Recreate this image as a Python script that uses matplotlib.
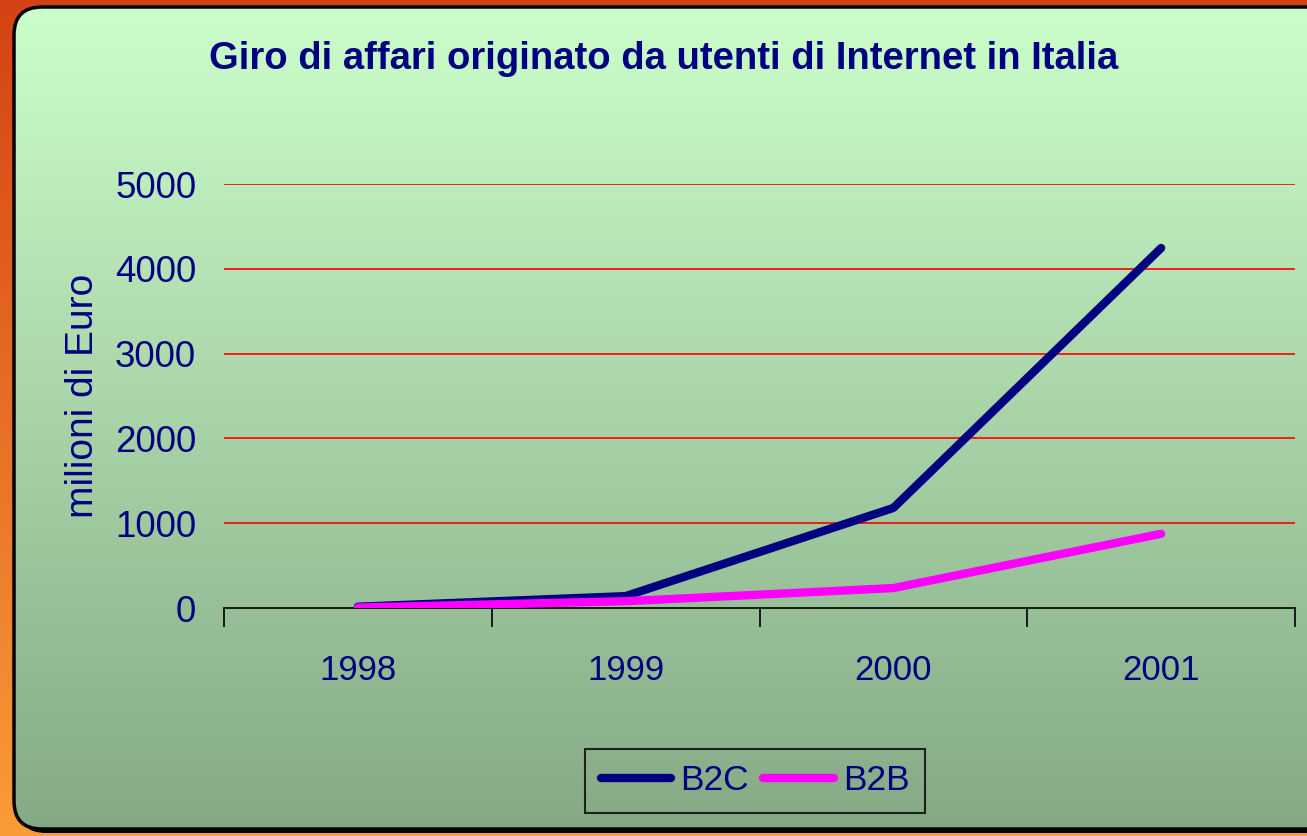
import matplotlib.pyplot as plt
import numpy as np
from matplotlib.patches import FancyBboxPatch

years = ['1998', '1999', '2000', '2001']
b2c = [15, 140, 1180, 4245]
b2b = [5, 80, 235, 875]

navy = '#000080'
plt.rcParams['font.family'] = ['Liberation Sans', 'DejaVu Sans']

W, H = 1307, 836
fig = plt.figure(figsize=(W / 100, H / 100), dpi=100)

# background: orange gradient + rounded green panel
bg = fig.add_axes([0, 0, 1, 1])
bg.set_xlim(0, W)
bg.set_ylim(H, 0)
bg.axis('off')

t = np.linspace(0, 1, 256)[:, None]
top = np.array([0.83, 0.26, 0.08])
bot = np.array([0.98, 0.61, 0.22])
orange = top + (bot - top) * t[:, :, None] * np.ones((1, 2, 1))
bg.imshow(orange, extent=[0, W, H, 0], aspect='auto', zorder=0)

shadow = FancyBboxPatch((18, 11), 1330, 822, boxstyle='round,pad=0,rounding_size=28',
                        fc='black', ec='none', zorder=1)
bg.add_patch(shadow)
panel = FancyBboxPatch((14, 7), 1330, 822, boxstyle='round,pad=0,rounding_size=28',
                       fc='none', ec='black', lw=2.5, zorder=3)
bg.add_patch(panel)
gtop = np.array([0.80, 1.0, 0.80])
gbot = np.array([0.52, 0.66, 0.52])
green = gtop + (gbot - gtop) * t[:, :, None] * np.ones((1, 2, 1))
im = bg.imshow(green, extent=[0, W, H, 0], aspect='auto', zorder=2)
im.set_clip_path(panel)

fig.text(0.508, 0.929, 'Giro di affari originato da utenti di Internet in Italia',
         ha='center', va='center', fontsize=27.5, fontweight='bold', color=navy)

ax = fig.add_axes([224 / W, 1 - 608 / H, (1295 - 224) / W, (608 - 184) / H])
ax.set_facecolor('none')
x = np.arange(len(years))
ax.plot(x, b2c, color=navy, lw=6, solid_capstyle='round', solid_joinstyle='round', label='B2C', zorder=3)
ax.plot(x, b2b, color='#FF00FF', lw=6, solid_capstyle='round', solid_joinstyle='round', label='B2B', zorder=3)

ax.set_xlim(-0.5, 3.5)
ax.set_ylim(0, 5000)
ax.set_yticks([0, 1000, 2000, 3000, 4000, 5000])
for v in [1000, 2000, 3000, 4000, 5000]:
    ax.axhline(v, color='red', lw=1.2, zorder=1)
ax.set_xticks(x)
ax.set_xticklabels(years)
ax.set_xticks(np.arange(-0.5, 4, 1), minor=True)
ax.tick_params(axis='x', which='major', length=0, pad=33, labelsize=25, labelcolor=navy)
ax.tick_params(axis='x', which='minor', length=14, width=1.2, direction='out', color='black')
ax.tick_params(axis='y', length=0, pad=20, labelsize=26.5, labelcolor=navy)
for s in ['top', 'right', 'left']:
    ax.spines[s].set_visible(False)
ax.spines['bottom'].set_linewidth(1.2)
ax.set_ylabel('milioni di Euro', fontsize=28, color=navy, labelpad=10)

leg = fig.legend(loc='center', bbox_to_anchor=(755 / W, 1 - 781 / H), ncol=2, fontsize=25.5,
                 frameon=True, fancybox=False, edgecolor='black', facecolor='none',
                 handlelength=2.0, handletextpad=0.25, columnspacing=0.4, borderpad=0.45,
                 labelcolor=navy)
leg.get_frame().set_linewidth(1.5)

fig.savefig('out.png', dpi=100)
